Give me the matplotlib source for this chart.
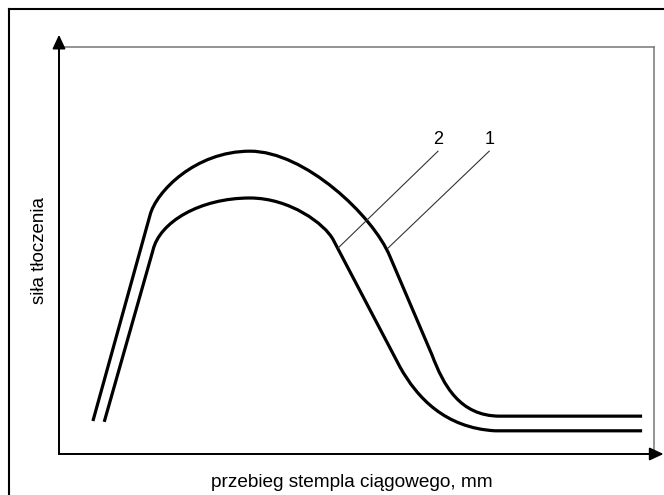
import matplotlib
matplotlib.use('Agg')
import matplotlib.pyplot as plt
from matplotlib.path import Path
from matplotlib.patches import PathPatch
from matplotlib.lines import Line2D

plt.rcParams['font.family'] = ['Liberation Sans', 'DejaVu Sans']

# curve 1 (outer): straight rise, rounded peak, fall, flat tail
# (x, y) vertices; codes tell the path which ones are bezier controls
curve1_pts = [(5.7, 8.1), (15.3, 58.7),
              (16.3, 64.4), (22.9, 74.4), (32.1, 74.4),
              (41.3, 74.4), (52.8, 58.5), (55.6, 48.6),
              (62.7, 24.3),
              (64.6, 17.0), (67.3, 9.3), (74.1, 9.3),
              (98.0, 9.3)]
curve1_codes = ['M', 'L', 'C', 'C', 'C', 'C', 'C', 'C', 'L', 'C', 'C', 'C', 'L']

# curve 2 (inner)
curve2_pts = [(7.6, 7.9), (15.8, 50.1),
              (16.9, 57.0), (23.7, 62.9), (32.1, 62.9),
              (38.8, 62.9), (44.7, 56.5), (46.1, 52.6),
              (57.3, 21.4),
              (60.2, 13.8), (64.9, 6.4), (73.3, 5.7),
              (98.0, 5.7)]
curve2_codes = ['M', 'L', 'C', 'C', 'C', 'C', 'C', 'C', 'L', 'C', 'C', 'C', 'L']

# leader lines for curve numbers: label, start (at text), end (on curve)
labels = ['2', '1']
leader_start = [(63.7, 74.4), (72.3, 74.4)]
leader_end = [(46.9, 50.6), (55.3, 50.6)]

xlabel = 'przebieg stempla ciągowego, mm'
ylabel = 'siła tłoczenia'

code_map = {'M': Path.MOVETO, 'L': Path.LINETO, 'C': Path.CURVE4}

W, H = 664, 495
fig = plt.figure(figsize=(W / 100, H / 100), dpi=100)
ax = fig.add_axes([59 / W, 41 / H, 595 / W, 407 / H])
ax.set_xlim(0, 100)
ax.set_ylim(0, 100)
ax.set_xticks([])
ax.set_yticks([])
for side in ['top', 'right']:
    ax.spines[side].set_color('#777777')
    ax.spines[side].set_linewidth(1.1)
for side in ['left', 'bottom']:
    ax.spines[side].set_color('black')
    ax.spines[side].set_linewidth(1.3)

for pts, codes in [(curve1_pts, curve1_codes), (curve2_pts, curve2_codes)]:
    path = Path(pts, [code_map[c] for c in codes])
    ax.add_patch(PathPatch(path, facecolor='none', edgecolor='black',
                           lw=2.3, capstyle='butt', joinstyle='round'))

for lab, (x0, y0), (x1, y1) in zip(labels, leader_start, leader_end):
    ax.plot([x0, x1], [y0, y1], color='#333333', lw=0.8)
    ax.text(x0, y0 + 0.8, lab, ha='center', va='bottom', fontsize=13)

# arrows on both axes
arrow = dict(arrowstyle='-|>,head_length=0.6,head_width=0.28', color='black',
             lw=1.3, mutation_scale=14, shrinkA=0, shrinkB=0)
ax.annotate('', xy=(1.016, 0), xytext=(0, 0), xycoords='axes fraction',
            arrowprops=arrow, annotation_clip=False)
ax.annotate('', xy=(0, 1.03), xytext=(0, 0), xycoords='axes fraction',
            arrowprops=arrow, annotation_clip=False)

# page frame around the drawing
fig.add_artist(Line2D([9 / W, 9 / W], [0, 1 - 9 / H], color='black', lw=1.5))
fig.add_artist(Line2D([9 / W, 1], [1 - 9 / H, 1 - 9 / H], color='black', lw=1.5))

fig.text(352 / W, 1 - 487 / H, xlabel, ha='center', va='baseline', fontsize=13.7)
fig.text(40 / W, 1 - 250 / H, ylabel, ha='center', va='center',
         rotation=90, fontsize=13.5)

fig.savefig('out.png', dpi=100)
